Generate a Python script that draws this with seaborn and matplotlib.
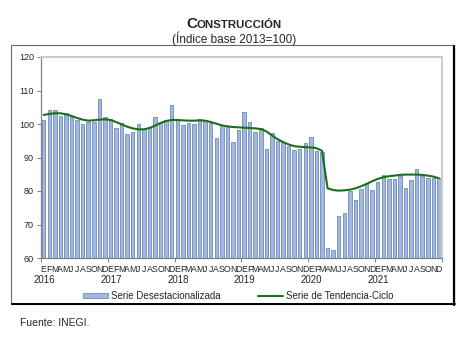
import numpy as np
import pandas as pd
import matplotlib
matplotlib.use("Agg")
import matplotlib.pyplot as plt
import seaborn as sns
from matplotlib.patches import Rectangle
from matplotlib.lines import Line2D
from matplotlib.patches import Patch

years = [2016, 2017, 2018, 2019, 2020, 2021]
month_letters = ["E", "F", "M", "A", "M", "J", "J", "A", "S", "O", "N", "D"]

serie_desest = [
    # 2016
    101.3, 104.2, 104.3, 102.5, 103.3, 102.0, 101.1, 100.0, 100.7, 100.7, 107.5, 102.1,
    # 2017
    101.5, 98.8, 100.4, 97.0, 97.6, 100.1, 98.5, 99.1, 102.1, 100.2, 101.2, 105.8,
    # 2018
    101.2, 99.8, 100.3, 100.1, 101.6, 101.3, 100.4, 95.8, 99.6, 99.2, 94.5, 98.3,
    # 2019
    103.5, 100.5, 97.7, 98.9, 92.5, 97.2, 94.8, 94.5, 93.3, 92.3, 92.5, 94.4,
    # 2020
    96.2, 91.9, 91.6, 63.1, 62.4, 72.4, 73.4, 80.1, 77.2, 80.5, 82.5, 80.3,
    # 2021
    82.7, 84.8, 83.6, 83.6, 84.4, 80.9, 83.4, 86.5, 84.6, 84.0, 83.8, 83.8,
]

serie_tendencia = [
    # 2016
    102.7, 103.0, 103.2, 103.2, 102.9, 102.4, 101.8, 101.3, 101.0, 101.1, 101.3, 101.4,
    # 2017
    101.2, 100.6, 99.9, 99.2, 98.7, 98.4, 98.4, 98.8, 99.5, 100.3, 100.9, 101.2,
    # 2018
    101.2, 101.1, 101.0, 101.0, 101.1, 101.0, 100.6, 100.1, 99.6, 99.3, 99.1, 99.0,
    # 2019
    98.9, 98.8, 98.7, 98.5, 97.8, 96.6, 95.5, 94.6, 93.9, 93.4, 93.2, 93.1,
    # 2020
    93.0, 92.8, 92.0, 80.8, 80.3, 80.1, 80.2, 80.4, 80.8, 81.4, 82.1, 82.9,
    # 2021
    83.6, 84.1, 84.4, 84.6, 84.8, 84.9, 84.9, 84.9, 84.8, 84.6, 84.3, 83.8,
]

periodos = [f"{y}-{m:02d}" for y in years for m in range(1, 13)]
df = pd.DataFrame({"periodo": periodos,
                   "desest": serie_desest,
                   "tendencia": serie_tendencia})
df["pos"] = np.arange(len(df))

sns.set_theme(style="white")
plt.rcParams["font.family"] = ["Liberation Sans", "DejaVu Sans"]

W, H = 469, 350
fig = plt.figure(figsize=(W / 100, H / 100), dpi=100)

def fx(px):
    return px / W

def fy(py):
    return 1 - py / H

# outer frame
frame = Rectangle((fx(11), fy(304)), fx(443), 259 / H, transform=fig.transFigure,
                  fill=False, edgecolor="#6a6a6a", linewidth=0.8, zorder=0)
fig.patches.append(frame)
fig.add_artist(Line2D([fx(454), fx(454)], [fy(46), fy(304.5)], transform=fig.transFigure,
                      color="black", linewidth=1.6))
fig.add_artist(Line2D([fx(12), fx(454.5)], [fy(304.3), fy(304.3)], transform=fig.transFigure,
                      color="black", linewidth=1.4))

ax = fig.add_axes([fx(40.9), fy(258), fx(441.7 - 40.9), (258 - 57) / H])

bar_fill = "#a3b8de"
bar_edge = "#6f8bbf"
trend_color = "#1b6e1b"
sns.barplot(data=df, x="periodo", y="desest", color=bar_fill, edgecolor=bar_edge,
            linewidth=0.6, width=0.62, saturation=1, ax=ax, zorder=2)
sns.lineplot(data=df, x="pos", y="tendencia", color=trend_color, linewidth=1.5,
             ax=ax, zorder=3)

ax.set_xlim(-0.5, len(df) - 0.5)
ax.set_ylim(60, 120)
ax.set_yticks(np.arange(60, 121, 10))
ax.set_yticklabels([str(v) for v in range(60, 121, 10)], fontsize=6.5)
ax.set_xlabel("")
ax.set_ylabel("")

# x: year boundaries as major ticks, month letters as minor labels
ax.set_xticks(np.arange(-0.5, len(df), 12))
ax.set_xticklabels([])
ax.set_xticks(df["pos"], minor=True)
ax.set_xticklabels(month_letters * len(years), minor=True, fontsize=6.3)
ax.tick_params(axis="x", which="major", direction="out", length=3, width=0.7,
               color="#808080", bottom=True)
ax.tick_params(axis="x", which="minor", length=0, pad=5)
ax.tick_params(axis="y", direction="out", length=3, width=0.7, color="#808080",
               left=True, pad=2)

for i, y in enumerate(years):
    ax.annotate(str(y), xy=(i * 12 + 0.1, 0), xycoords=("data", "axes fraction"),
                xytext=(0, -15.5), textcoords="offset points", ha="center", va="center",
                fontsize=7)

for side in ["top", "right"]:
    ax.spines[side].set_color("#cccccc")
    ax.spines[side].set_linewidth(1.5)
for side in ["left", "bottom"]:
    ax.spines[side].set_color("#808080")
    ax.spines[side].set_linewidth(0.9)
ax.grid(False)

# legend
handles = [Patch(facecolor=bar_fill, edgecolor=bar_edge, linewidth=0.6),
           Line2D([0], [0], color=trend_color, linewidth=1.5)]
labels = ["Serie Desestacionalizada", "Serie de Tendencia-Ciclo"]
leg = fig.legend(handles, labels, loc="center", bbox_to_anchor=(fx(238), fy(296)),
                 ncol=2, frameon=False, fontsize=7, handlelength=2.6, handleheight=0.5,
                 handletextpad=0.3, columnspacing=3.8, borderpad=0)

# titles (small caps)
fig.canvas.draw()
renderer = fig.canvas.get_renderer()
t1 = fig.text(0, fy(28), "C", fontsize=11, fontweight="bold", va="baseline", ha="left")
t2 = fig.text(0, fy(28), "ONSTRUCCIÓN", fontsize=8.2, fontweight="bold", va="baseline",
              ha="left")
w1 = t1.get_window_extent(renderer).width
w2 = t2.get_window_extent(renderer).width
x0 = 234 - (w1 + w2) / 2
t1.set_x(fx(x0))
t2.set_x(fx(x0 + w1))
fig.text(fx(234), fy(38.5), "(Índice base 2013=100)", fontsize=8.5, ha="center",
         va="center")

fig.text(fx(20), fy(323), "Fuente: INEGI.", fontsize=7.5, ha="left", va="center")

fig.savefig("out.png", dpi=100)
